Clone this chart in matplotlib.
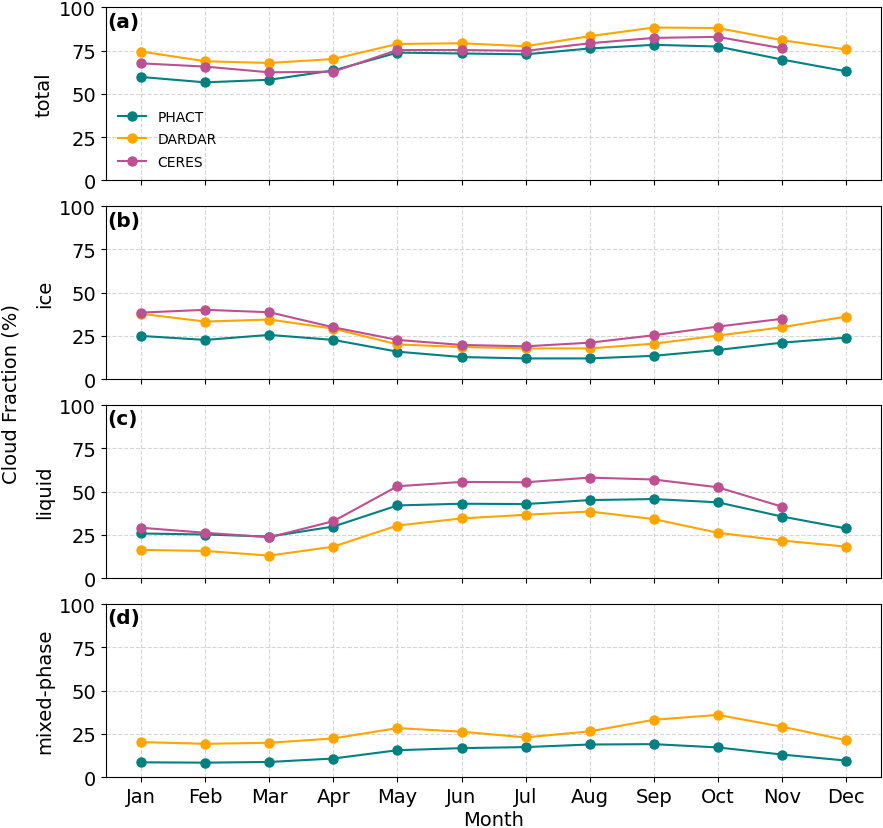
import numpy as np
import matplotlib
matplotlib.use('Agg')
from matplotlib import pyplot as plt

months = ['Jan', 'Feb', 'Mar', 'Apr', 'May', 'Jun', 'Jul', 'Aug', 'Sep', 'Oct', 'Nov', 'Dec']

# total cloud fraction (%)
phact_total = [59.7, 56.6, 58.1, 63.5, 73.8, 73.3, 72.8, 76.2, 78.3, 77.3, 69.8, 63.0]
dardar_total = [74.4, 68.8, 67.8, 70.1, 78.8, 79.2, 77.5, 83.3, 88.3, 88.0, 81.0, 75.6]
ceres_total = [67.6, 65.7, 62.4, 62.8, 75.3, 75.3, 74.8, 79.2, 82.3, 82.9, 76.3, np.nan]

# ice
phact_ice = [25.0, 22.7, 25.6, 22.7, 15.9, 12.8, 12.0, 12.0, 13.5, 16.9, 21.1, 24.0]
dardar_ice = [37.8, 33.3, 34.5, 29.2, 20.1, 18.6, 17.8, 17.8, 20.5, 25.2, 30.0, 36.2]
ceres_ice = [38.5, 40.1, 38.7, 30.0, 22.7, 19.8, 19.0, 21.1, 25.4, 30.4, 34.9, np.nan]

# liquid
phact_liq = [25.8, 25.2, 24.0, 29.8, 42.0, 43.0, 42.8, 45.1, 45.7, 43.8, 35.6, 28.7]
dardar_liq = [16.3, 15.7, 13.0, 18.2, 30.4, 34.5, 36.6, 38.5, 34.1, 26.2, 21.7, 18.2]
ceres_liq = [29.1, 26.2, 23.6, 32.9, 53.1, 55.6, 55.4, 58.1, 57.0, 52.5, 41.3, np.nan]

# mixed-phase
phact_mix = [8.5, 8.3, 8.7, 10.7, 15.5, 16.7, 17.3, 18.8, 19.0, 17.1, 13.0, 9.5]
dardar_mix = [20.2, 19.2, 19.8, 22.3, 28.3, 26.2, 22.9, 26.4, 33.1, 35.9, 29.1, 21.3]

panels = [
    ('(a)', 'total', [phact_total, dardar_total, ceres_total]),
    ('(b)', 'ice', [phact_ice, dardar_ice, ceres_ice]),
    ('(c)', 'liquid', [phact_liq, dardar_liq, ceres_liq]),
    ('(d)', 'mixed-phase', [phact_mix, dardar_mix, None]),
]
names = ['PHACT', 'DARDAR', 'CERES']
colors = ['#008080', '#FFA500', '#BC5090']

x = np.arange(len(months))

fig, axes = plt.subplots(4, 1, figsize=(8.83, 8.29), dpi=100, sharex=True)
fig.subplots_adjust(left=0.12, right=0.998, top=0.990, bottom=0.0615, hspace=0.15)

for ax, (tag, label, series) in zip(axes, panels):
    for name, col, vals in zip(names, colors, series):
        if vals is None:
            continue
        ax.plot(x, vals, '-o', color=col, label=name, lw=1.5, ms=6.5)
    ax.set_ylim(0, 100)
    ax.set_yticks([0, 25, 50, 75, 100])
    ax.set_ylabel(label, fontsize=14)
    ax.tick_params(labelsize=14)
    ax.grid(True, ls='--', color='#cccccc', alpha=0.8)
    ax.text(0.002, 0.975, tag, transform=ax.transAxes, fontsize=14.5,
            fontweight='bold', va='top', ha='left')

axes[0].legend(loc='lower left', frameon=False, fontsize=10, bbox_to_anchor=(0.0, -0.005),
               labelspacing=0.6)
axes[-1].set_xticks(x)
axes[-1].set_xticklabels(months)
axes[-1].set_xlabel('Month', fontsize=14, labelpad=3)

fig.text(0.012, 0.525, 'Cloud Fraction (%)', rotation=90, va='center', ha='center', fontsize=14)

plt.savefig('out.png', dpi=100)
